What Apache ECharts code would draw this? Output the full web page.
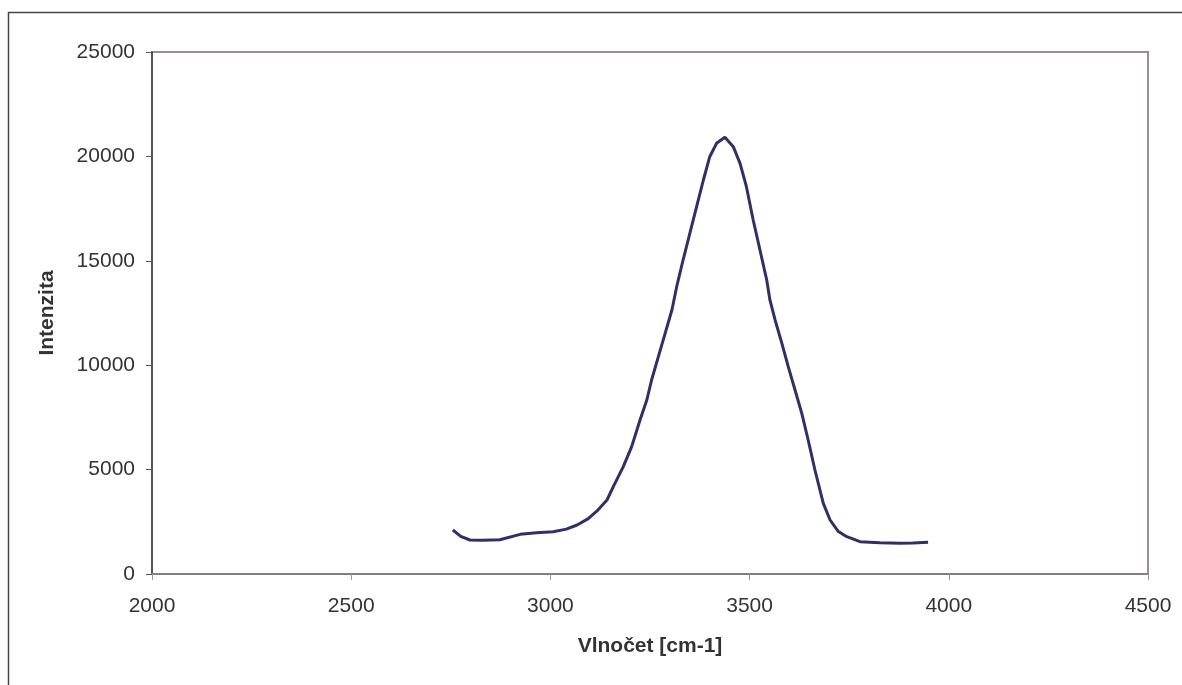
<!DOCTYPE html>
<html>
<head>
<meta charset="utf-8">
<script src="https://cdn.jsdelivr.net/npm/echarts@6/dist/echarts.min.js"></script>
<style>
html,body{margin:0;padding:0;background:#fff;}
#c{width:1182px;height:685px;}
</style>
</head>
<body>
<div id="c"></div>
<script>
const xTitle = 'Vlnočet [cm-1]';
const yTitle = 'Intenzita';
const wavenumber = [2755, 2775, 2798, 2830, 2873, 2924, 2965, 3007, 3040, 3067, 3095, 3117, 3142, 3158, 3183, 3204, 3225, 3242, 3254, 3271, 3288, 3305, 3317, 3333, 3350, 3367, 3384, 3400, 3417, 3438, 3459, 3476, 3492, 3509, 3526, 3543, 3551, 3564, 3581, 3597, 3614, 3631, 3647, 3664, 3685, 3702, 3722, 3744, 3777, 3827, 3877, 3910, 3948];
const intensity = [2107, 1800, 1628, 1620, 1640, 1900, 1980, 2026, 2150, 2347, 2650, 3020, 3544, 4183, 5140, 6098, 7375, 8333, 9291, 10408, 11526, 12644, 13760, 15038, 16317, 17590, 18870, 19985, 20627, 20915, 20466, 19668, 18550, 16954, 15517, 14080, 13123, 12165, 11047, 9930, 8812, 7694, 6418, 4981, 3385, 2586, 2050, 1788, 1548, 1500, 1470, 1490, 1516];

const chart = echarts.init(document.getElementById('c'));
chart.setOption({
  animation: false,
  backgroundColor: '#ffffff',
  grid: {left: 152, right: 34, top: 52, bottom: 111, show: true, borderColor: '#9a8e8e', borderWidth: 2, containLabel: false},
  xAxis: {
    type: 'value', min: 2000, max: 4500, interval: 500,
    name: xTitle, nameLocation: 'middle', nameGap: 62,
    nameTextStyle: {fontFamily: 'Liberation Sans', fontSize: 21, fontWeight: 'bold', color: '#333'},
    axisLine: {show: true, lineStyle: {color: '#808080', width: 2}},
    axisTick: {show: true, length: 6, inside: false, lineStyle: {color: '#999'}},
    axisLabel: {margin: 22, fontFamily: 'Liberation Sans', fontSize: 21, color: '#333', formatter: v => String(v)},
    splitLine: {show: false}
  },
  yAxis: {
    type: 'value', min: 0, max: 25000, interval: 5000,
    name: yTitle, nameLocation: 'middle', nameGap: 94,
    nameTextStyle: {fontFamily: 'Liberation Sans', fontSize: 21, fontWeight: 'bold', color: '#333'},
    axisLine: {show: true, lineStyle: {color: '#555', width: 2}},
    axisTick: {show: true, length: 6, inside: false, lineStyle: {color: '#555'}},
    axisLabel: {margin: 17, fontFamily: 'Liberation Sans', fontSize: 21, color: '#333', formatter: v => String(v)},
    splitLine: {show: false}
  },
  series: [{
    type: 'line',
    data: wavenumber.map((x, i) => [x, intensity[i]]),
    showSymbol: false,
    smooth: false,
    lineStyle: {color: '#2e3166', width: 3},
    itemStyle: {color: '#2e3166'}
  }],
  graphic: [
    {type: 'line', shape: {x1: 8.5, y1: 12, x2: 8.5, y2: 685}, style: {stroke: '#444', lineWidth: 1.5}},
    {type: 'line', shape: {x1: 8, y1: 12.5, x2: 1182, y2: 12.5}, style: {stroke: '#444', lineWidth: 1.5}}
  ]
});
</script>
</body>
</html>
